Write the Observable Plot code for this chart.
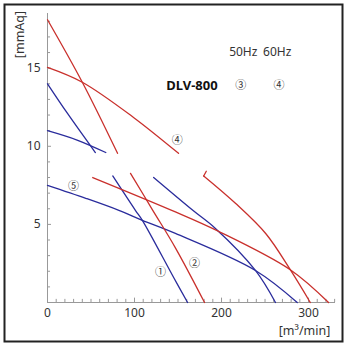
<!DOCTYPE html>
<html><head><meta charset="utf-8">
<script src="https://cdn.jsdelivr.net/npm/d3@7"></script>
<script src="https://cdn.jsdelivr.net/npm/@observablehq/plot@0.6"></script>
<style>body{margin:0;background:#fff}</style>
</head><body><div id="chart"></div>
<script>
// Curve segments: [flow m³/min, pressure mmAq]
const blueUpperA = [[0,14.0],[23,12.1],[55,9.6]];
const blueUpperB = [[0,11.0],[34,10.4],[67,9.6]];
const blueLowerA = [[75,8.1],[101,5.9],[109,5.26],[145,1.6],[161,0]];
const blueLowerB = [[122,8.0],[167,5.9],[193,4.74],[239,2.05],[262,0]];
const blueFive   = [[0,7.5],[44,6.67],[82,5.9],[109,5.26],[147,4.42],[239,2.05],[287,0]];
const redUpperA  = [[0,18.1],[40,14.1],[80.5,9.55]];
const redUpperB  = [[0,15.05],[40,14.1],[100,11.8],[150.6,9.55]];
const redLowerA  = [[95.4,8.27],[121,5.9],[147,3.5],[180.5,0]];
const redHookB   = [[182.5,8.4],[179.5,8.1]];
const redLowerB  = [[179.5,8.1],[216,6.35],[251,4.4],[279,2.1],[302,0]];
const redFive    = [[52,8.0],[147,5.8],[195,4.6],[279,2.1],[323,0]];

const xTickLabels = [0,100,200,300];
const yTickLabels = [5,10,15];
const xMinorTicks = d3.range(0, 331, 10);
const yMinorTicks = d3.range(0, 19, 1);

const curveLabels = ["④","⑤","①","②"];
const curveLabelX = [149,30,130,169];
const curveLabelY = [10.4,7.4,1.9,2.5];

const legendHz = ["50Hz","60Hz"];
const legendHzX = [225,264];
const legendHzY = [16.0,16.0];
const legendModel = ["DLV-800"];
const legendModelX = [166];
const legendModelY = [13.9];
const legendNums = ["③","④"];
const legendNumsX = [222,266];
const legendNumsY = [13.9,13.9];

const BLUE = "#2a2c9c", RED = "#c9302c";
const blueSegs = {blueUpperA, blueUpperB, blueLowerA, blueLowerB, blueFive};
const redSegs = {redUpperA, redUpperB, redLowerA, redHookB, redLowerB, redFive};
const toRows = segs => Object.entries(segs).flatMap(([id, pts]) => pts.map(([x,y]) => ({id, x, y})));
const blueRows = toRows(blueSegs);
const redRows = toRows(redSegs);
const zip = (t, xs, ys) => t.map((s,i) => ({s, x: xs[i], y: ys[i]}));

const chart = Plot.plot({
  width: 350, height: 345,
  marginLeft: 47, marginRight: 15, marginTop: 13, marginBottom: 43,
  style: {fontFamily: "'Noto Sans', 'Open Sans', sans-serif", fontSize: "12px", background: "#fff", color: "#333"},
  x: {domain: [0, 331]},
  y: {domain: [0, 18.5]},
  marks: [
    Plot.frame({stroke: "#222", strokeWidth: 2, insetLeft: -43, insetTop: -9, insetRight: -7, insetBottom: -39}),
    Plot.ruleX(xMinorTicks, {x: d => d, y1: 0, y2: d => d % 100 === 0 ? 0.28 : 0.2, stroke: "#999"}),
    Plot.ruleY(yMinorTicks, {y: d => d, x1: 0, x2: d => d % 5 === 0 ? 4.6 : 3.5, stroke: "#999"}),
    Plot.ruleX([0], {y1: 0, y2: 18.5, stroke: "#999"}),
    Plot.ruleY([0], {x1: 0, x2: 331, stroke: "#999"}),
    Plot.axisX(xTickLabels, {tickSize: 0, tickPadding: 6, label: null, fill: "#333", fontSize: 12}),
    Plot.axisY(yTickLabels, {tickSize: 0, tickPadding: 7, label: null, fill: "#333", fontSize: 12}),
    Plot.line(blueRows, {x: "x", y: "y", z: "id", stroke: BLUE, strokeWidth: 1.3, curve: "catmull-rom"}),
    Plot.line(redRows, {x: "x", y: "y", z: "id", stroke: RED, strokeWidth: 1.3, curve: "catmull-rom"}),
    Plot.text(zip(curveLabels, curveLabelX, curveLabelY), {x: "x", y: "y", text: "s", fontSize: 11, fill: "#333", fontFamily: "'Noto Sans CJK JP', sans-serif"}),
    Plot.text(zip(legendNums, legendNumsX, legendNumsY), {x: "x", y: "y", text: "s", fontSize: 11, fill: "#333", fontFamily: "'Noto Sans CJK JP', sans-serif"}),
    Plot.text(zip(legendHz, legendHzX, legendHzY), {x: "x", y: "y", text: "s", fontSize: 12, fill: "#333"}),
    Plot.text(zip(legendModel, legendModelX, legendModelY), {x: "x", y: "y", text: "s", fontSize: 13, fontWeight: "bold", fill: "#111"}),
    Plot.text(["[mmAq]"], {frameAnchor: "top-left", dx: -28, dy: 21, rotate: -90, textAnchor: "middle", lineAnchor: "middle", fontSize: 12.5, fill: "#333"}),
    Plot.text(["[m³/min]"], {frameAnchor: "bottom-right", dx: -31, dy: 28, textAnchor: "middle", lineAnchor: "middle", fontSize: 12.5, fill: "#333"})
  ]
});
document.getElementById("chart").append(chart);
</script>
</body></html>
